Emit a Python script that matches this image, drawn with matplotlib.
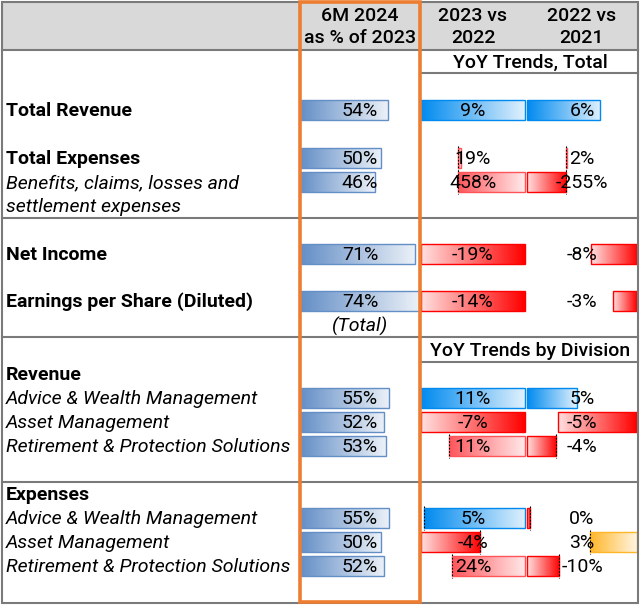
import matplotlib
matplotlib.use("Agg")
import matplotlib.pyplot as plt
import numpy as np
from matplotlib.patches import Rectangle
from matplotlib.colors import to_rgb

# ---------------- data ----------------
labels = ["Total Revenue", "Total Expenses", "Benefits, claims, losses and\nsettlement expenses",
          "Net Income", "Earnings per Share (Diluted)",
          "Revenue", "Advice & Wealth Management", "Asset Management",
          "Retirement & Protection Solutions",
          "Expenses", "Advice & Wealth Management", "Asset Management",
          "Retirement & Protection Solutions"]
label_kind = ["bold", "bold", "italic", "bold", "bold",
              "bold", "italic", "italic", "italic",
              "bold", "italic", "italic", "italic"]
share_6m_2024 = [54, 50, 46, 71, 74, None, 55, 52, 53, None, 55, 50, 52]
yoy_2023_vs_2022 = [9, 19, 458, -19, -14, None, 11, -7, 11, None, 5, -4, 24]
yoy_2022_vs_2021 = [6, 2, -255, -8, -3, None, 5, -5, -4, None, -0.13, 3, -10]
header_texts = ["6M 2024\nas % of 2023", "2023 vs\n2022", "2022 vs\n2021"]
section_titles = ["YoY Trends, Total", "YoY Trends by Division"]
total_note = "(Total)"
# rows sharing one data-bar rule (YoY columns)
rule_groups = [[0], [1, 2], [3], [4], [6], [7], [8], [10], [11], [12]]

# ---------------- style / layout ----------------
BLUE1 = "#638EC6"
BLUE2 = "#008AEF"
RED = "#FF0000"
PRED = "#FF555A"
ORANGE = "#FFB628"
rule_pos_color = [BLUE2, PRED, PRED, PRED, BLUE2, PRED, PRED, BLUE2, ORANGE, PRED]
GRID = "#7A7A7A"
FONT = "Roboto"
FS = 14

W, H = 640, 605
row_y = [110, 158, 182, 254, 301, 374, 398, 422, 446, 494, 518, 542, 566]
col_cells = [(300, 420), (421, 525), (527, 637)]
BAR_H = 20
DY = 1.0  # small baseline shift of text

fig = plt.figure(figsize=(W / 100, H / 100), dpi=100)
ax = fig.add_axes([0, 0, 1, 1])
ax.set_xlim(0, W)
ax.set_ylim(H, 0)
ax.axis("off")


def grad_bar(x0, x1, yc, color, solid_left=True):
    if x1 - x0 <= 0:
        return
    c = np.array(to_rgb(color))
    end = c * 0.12 + np.ones(3) * 0.88
    t = np.linspace(0, 1, 256)[:, None]
    cols = c[None, :] * (1 - t) + end[None, :] * t
    if not solid_left:
        cols = cols[::-1]
    ax.imshow(cols[None, :, :], extent=(x0, x1, yc + BAR_H / 2, yc - BAR_H / 2),
              aspect="auto", interpolation="bilinear", zorder=2)
    ax.add_patch(Rectangle((x0, yc - BAR_H / 2), x1 - x0, BAR_H, fill=False,
                           edgecolor=color, lw=1.0, zorder=3))


def pct(v):
    return f"{round(v):d}%"


def txt(x, y, s, ha="center", **kw):
    ax.text(x, y + DY, s, ha=ha, va="center", fontsize=FS, family=FONT, zorder=6, **kw)


# header band
ax.add_patch(Rectangle((2, 2), 636, 48, facecolor="#D9D9D9", edgecolor="none", zorder=0))
for (cx0, cx1), t in zip(col_cells, header_texts):
    l1, l2 = t.split("\n")
    xc = (cx0 + cx1) / 2
    txt(xc, 15, l1, weight="medium")
    txt(xc, 37, l2, weight="medium")

# section titles for YoY columns
txt(530, 62, section_titles[0], weight="medium")
txt(530, 350, section_titles[1], weight="medium")

# labels
for y, lab, kind in zip(row_y, labels, label_kind):
    for k, ln in enumerate(lab.split("\n")):
        txt(6, y + 24 * k, ln, ha="left",
            weight="bold" if kind == "bold" else "normal",
            style="italic" if kind == "italic" else "normal")

# column 1 bars
vals1 = [v for v in share_6m_2024 if v is not None]
mx1 = max(vals1)
cx0, cx1 = col_cells[0]
for y, v in zip(row_y, share_6m_2024):
    if v is None:
        continue
    grad_bar(cx0, cx0 + v / mx1 * (cx1 - cx0), y, BLUE1, True)
    txt((cx0 + cx1) / 2, y, pct(v))
txt((cx0 + cx1) / 2, 325, total_note, style="italic")

# YoY columns
yoy_cols = [yoy_2023_vs_2022, yoy_2022_vs_2021]
for gi, rows in enumerate(rule_groups):
    vals = [yoy_cols[c][r] for r in rows for c in range(2)]
    vmin, vmax = min(vals), max(vals)
    pcol = rule_pos_color[gi]
    for r in rows:
        y = row_y[r]
        for c in range(2):
            v = yoy_cols[c][r]
            x0, x1 = col_cells[c + 1]
            w = x1 - x0
            if vmin >= 0:
                grad_bar(x0, x0 + v / vmax * w, y, pcol, True)
            elif vmax <= 0:
                grad_bar(x1 - v / vmin * w, x1, y, RED, False)
            else:
                a = -vmin / (vmax - vmin)
                axx = x0 + a * w
                if v >= 0:
                    grad_bar(axx, axx + v / vmax * (1 - a) * w, y, pcol, True)
                else:
                    grad_bar(axx - v / vmin * a * w, axx, y, RED, False)
                ax.plot([axx, axx], [y - 12, y + 12], color="black", lw=0.8,
                        ls=(0, (1.5, 1.5)), zorder=4)
            txt((x0 + x1) / 2, y, pct(v))

# grid lines
ax.add_patch(Rectangle((2, 2), 636, 601, fill=False, edgecolor=GRID, lw=1.5, zorder=7))
for yy in [50, 218, 337, 482]:
    ax.plot([2, 638], [yy, yy], color=GRID, lw=1.5, zorder=7)
for yy in [73, 362]:
    ax.plot([420, 638], [yy, yy], color=GRID, lw=1.5, zorder=7)
ax.plot([420, 420], [337, 362], color=GRID, lw=1.5, zorder=7)

# orange highlight box
ax.add_patch(Rectangle((299.5, 1.5), 120.5, 600.5, fill=False, edgecolor="#ED7D31", lw=2.6, zorder=8))

ax.set_xlim(0, W)
ax.set_ylim(H, 0)
fig.savefig("out.png", dpi=100)
